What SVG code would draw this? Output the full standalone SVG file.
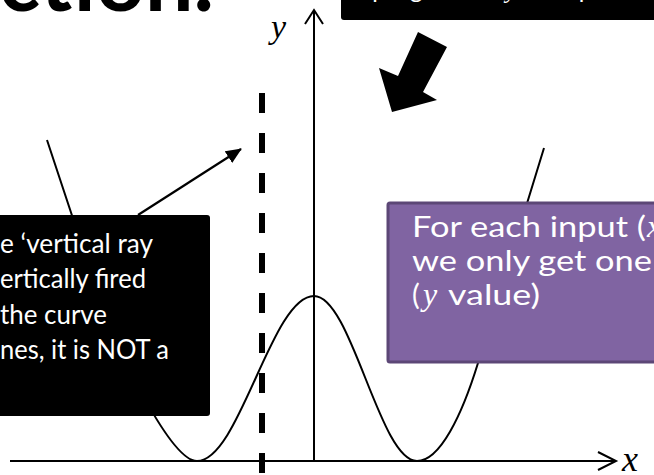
<svg xmlns="http://www.w3.org/2000/svg" width="654" height="475" viewBox="0 0 654 475">
<defs>
<style>
.ax{stroke:#000;stroke-width:2;fill:none}
.lbl{font-family:Lato,"Open Sans",sans-serif;fill:#fff}
.math{font-family:"Liberation Serif","DejaVu Serif",serif;font-style:italic}
</style>
<marker id="ah" viewBox="0 0 16 14" refX="15" refY="7" markerWidth="16" markerHeight="14" markerUnits="userSpaceOnUse" orient="auto">
<path d="M0,0 L16,7 L0,14 z" fill="#000"/>
</marker>
</defs>
<rect width="654" height="475" fill="#fff"/>
<g id="title">
<text x="214" y="11" text-anchor="end" font-family="Lato,'Liberation Sans',sans-serif" font-weight="bold" font-size="86" fill="#000">Function.</text>
</g>
<g id="axes">
<line class="ax" x1="314" y1="461" x2="314" y2="10"/>
<polyline class="ax" points="305,24 314,10 323,24"/>
<line class="ax" x1="10" y1="461" x2="615" y2="461"/>
<polyline class="ax" points="598,452 616,461 598,470"/>
<text x="271" y="38" class="math" font-size="34" fill="#000">y</text>
<text x="622" y="471" class="math" font-size="36" fill="#000">x</text>
</g>
<g id="curve">
<path class="ax" d="M47,140 L100,300 C115,345 170,461 197,461 C239.6,461 271.4,296 314,296 C351.5,296 379.5,461 417,461 C440,461 462,415 478,363 L544,148"/>
</g>
<g id="dashed-line">
<line x1="262" y1="93" x2="262" y2="475" stroke="#000" stroke-width="6" stroke-dasharray="20 20"/>
</g>
<g id="top-box">
<rect x="341" y="-20" width="330" height="40" rx="3" fill="#000"/>
<text class="lbl" x="355" y="-2" font-size="24" textLength="290" lengthAdjust="spacing">input gives one <tspan class="math">y</tspan> as output for</text>
</g>
<g id="left-box">
<rect x="-10" y="215" width="220" height="201" rx="3" fill="#000"/>
<text class="lbl" x="0" y="253" font-size="27" textLength="153" lengthAdjust="spacingAndGlyphs">e ‘vertical ray</text>
<text class="lbl" x="0" y="288" font-size="27" textLength="146" lengthAdjust="spacingAndGlyphs">ertically fired</text>
<text class="lbl" x="0" y="324" font-size="27" textLength="107" lengthAdjust="spacingAndGlyphs">the curve</text>
<text class="lbl" x="0" y="359" font-size="27" textLength="169" lengthAdjust="spacingAndGlyphs">nes, it is NOT a</text>
</g>
<g id="purple-box">
<rect x="388" y="203" width="290" height="159" rx="2" fill="#8064A2" stroke="#5C4776" stroke-width="3"/>
<text class="lbl" x="412" y="237" font-size="29" textLength="234" lengthAdjust="spacingAndGlyphs">For each input (</text>
<text class="lbl math" x="647" y="237" font-size="32">x</text>
<text class="lbl" x="412" y="271" font-size="29" textLength="240" lengthAdjust="spacingAndGlyphs">we only get one</text>
<text class="lbl" x="412" y="305" font-size="29">(</text>
<text class="lbl math" x="423" y="305" font-size="32">y</text>
<text class="lbl" x="448" y="305" font-size="29" textLength="92" lengthAdjust="spacingAndGlyphs">value)</text>
</g>
<g id="connectors">
<line x1="138" y1="215" x2="241" y2="149" stroke="#000" stroke-width="2.2" marker-end="url(#ah)"/>
<polygon points="392,112 379,68 398,76 418,32 447,47 423,92 437,100" fill="#000"/>
</g>
</svg>
